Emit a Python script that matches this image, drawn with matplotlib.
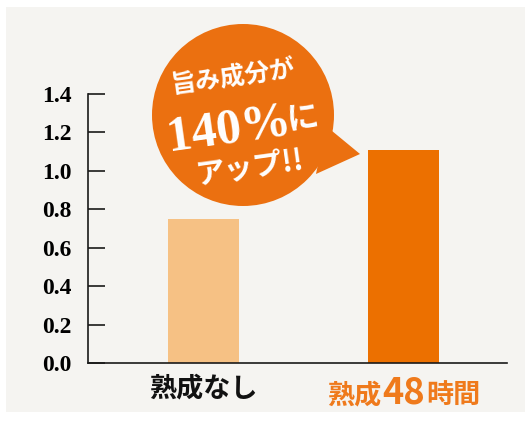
import matplotlib.pyplot as plt
from matplotlib.patches import Circle, Polygon, Rectangle
from matplotlib.offsetbox import TextArea, HPacker, AnnotationBbox

categories = ['熟成なし', '熟成48時間']
values = [0.75, 1.11]
bar_colors = ['#f6c184', '#ec7000']
label_colors = ['#111111', '#ef7a1c']
yticks = [0.0, 0.2, 0.4, 0.6, 0.8, 1.0, 1.2, 1.4]
ytick_labels = ['0.0', '0.2', '0.4', '0.6', '0.8', '1.0', '1.2', '1.4']

W, H = 529, 424
fig = plt.figure(figsize=(W / 100, H / 100), dpi=100, facecolor='white')

# paper background (white margin round it)
fig.add_artist(Rectangle((6 / W, 12 / H), 519 / W, 405 / H, transform=fig.transFigure,
                         facecolor='#f5f4f1', edgecolor='none', zorder=-1))

ax = fig.add_axes([88 / W, 61 / H, 419 / W, 269 / H])
ax.set_facecolor('none')
ax.bar(range(len(values)), values, width=0.355, color=bar_colors)
ax.set_xlim(-0.5775, 1.5175)
ax.set_ylim(0, 1.4)

for s in ['top', 'right']:
    ax.spines[s].set_visible(False)
for s in ['left', 'bottom']:
    ax.spines[s].set_linewidth(1.2)
    ax.spines[s].set_color('#1a1a1a')

ax.set_yticks(yticks)
ax.set_yticklabels(ytick_labels, fontfamily='Liberation Serif', fontweight='bold', fontsize=17)
ax.tick_params(axis='y', direction='in', length=12.5, width=1.2, color='#1a1a1a', pad=12)

# category labels: digit runs drawn larger, as in the original
ax.set_xticks(range(len(categories)))
ax.set_xticklabels([''] * len(categories))
ax.tick_params(axis='x', length=0)
jp = ['Noto Sans CJK JP']
for i, (cat, c) in enumerate(zip(categories, label_colors)):
    parts, buf, isdig = [], '', None
    for ch in cat:
        d = ch.isdigit()
        if buf and d != isdig:
            parts.append((buf, isdig))
            buf = ''
        buf += ch
        isdig = d
    parts.append((buf, isdig))
    areas = [TextArea(t, textprops=dict(color=c, family=jp, fontweight='bold',
                                         fontsize=26 if d else 19.5))
             for t, d in parts]
    box = HPacker(children=areas, align='baseline', pad=0, sep=1)
    ab = AnnotationBbox(box, (i, 0), xycoords=ax.get_xaxis_transform(),
                        xybox=(0, -8), boxcoords='offset points', box_alignment=(0.5, 1),
                        frameon=False, annotation_clip=False)
    ax.add_artist(ab)

# speech bubble overlay in pixel coordinates
ov = fig.add_axes([0, 0, 1, 1])
ov.set_xlim(0, W)
ov.set_ylim(H, 0)
ov.axis('off')
ov.set_zorder(3)
bubble = '#eb7010'
ov.add_patch(Circle((243, 115), 91, facecolor=bubble, edgecolor='none'))
ov.add_patch(Polygon([(326, 126), (360, 154), (316, 174)], closed=True,
                     facecolor=bubble, edgecolor='none'))

rot = 8
fam = ['Liberation Serif', 'Noto Sans CJK JP']
ov.text(233, 78, '旨み成分が', color='white', fontsize=18, rotation=rot, rotation_mode='anchor',
        ha='center', va='center', family=jp, fontweight='bold')
ov.text(229, 130, '140%', color='white', fontsize=36, rotation=rot, rotation_mode='anchor',
        ha='center', va='center', family=fam, fontweight='bold')
ov.text(303, 120, 'に', color='white', fontsize=23, rotation=rot, rotation_mode='anchor',
        ha='center', va='center', family=jp, fontweight='bold')
ov.text(250, 168, 'アップ!!', color='white', fontsize=21, rotation=rot, rotation_mode='anchor',
        ha='center', va='center', family=jp, fontweight='bold')

fig.savefig('out.png', dpi=100, facecolor=fig.get_facecolor())
